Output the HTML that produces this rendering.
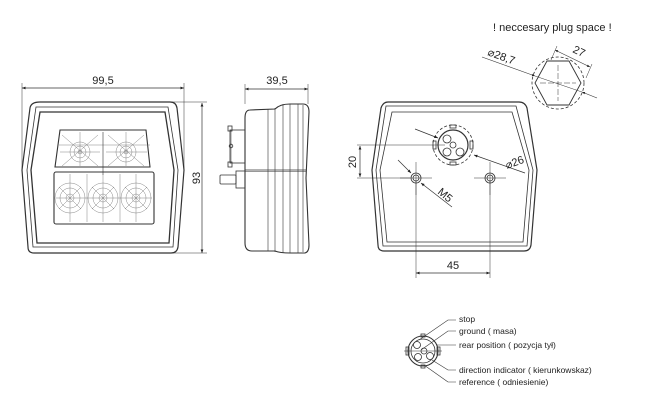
<!DOCTYPE html>
<html><head><meta charset="utf-8"><style>
html,body{margin:0;padding:0;background:#fff;width:650px;height:408px;overflow:hidden}
svg{display:block}
text{font-family:"Liberation Sans",sans-serif;fill:#222}
</style></head><body>
<svg width="650" height="408" viewBox="0 0 650 408" xmlns="http://www.w3.org/2000/svg">
<defs>
<marker id="a" viewBox="0 0 10 10" refX="10" refY="5" markerWidth="7" markerHeight="5" orient="auto-start-reverse"><path d="M0,1 L10,5 L0,9 z" fill="#222"/></marker>
</defs>
<g fill="none" stroke="#333" stroke-width="0.8">
<!-- FRONT VIEW -->
<path d="M40,102 L170,102 Q176,102 177,108 L184,170 L178,247 Q177,253 171,253 L34,253 Q28,253 28,247 L22,170 L30,108 Q31,102 40,102 Z" stroke-width="1.2"/>
<path d="M42,107 L168,107 L178,170 L173,247 L33,247 L27,170 L36,107 Z"/>
<path d="M44,112 L165,112 L174,170 L169,243 L37,243 L31,170 L40,112 Z" stroke-width="1.3"/>
<path d="M60,130 L146,130 L150,167 L55,167 Z" stroke-width="1.1"/>
<rect x="54" y="172" width="100" height="52" rx="2" stroke-width="1.1"/>
<g stroke="#777" stroke-width="0.45">
<line x1="59" y1="145" x2="150" y2="145"/>
<line x1="103" y1="132" x2="103" y2="175" stroke="#333" stroke-width="0.6"/>
<circle cx="80" cy="152" r="10"/><circle cx="80" cy="152" r="6"/><circle cx="80" cy="152" r="2"/>
<circle cx="126" cy="152" r="10"/><circle cx="126" cy="152" r="6"/><circle cx="126" cy="152" r="2"/>
<line x1="62" y1="135" x2="98" y2="166"/><line x1="62" y1="166" x2="98" y2="135"/>
<line x1="108" y1="135" x2="144" y2="166"/><line x1="108" y1="166" x2="144" y2="135"/>
<line x1="80" y1="132" x2="80" y2="166"/><line x1="126" y1="132" x2="126" y2="166"/>
<line x1="60" y1="152" x2="100" y2="152"/><line x1="106" y1="152" x2="147" y2="152"/>
<circle cx="70" cy="198" r="15"/><circle cx="70" cy="198" r="10"/><circle cx="70" cy="198" r="4"/>
<circle cx="103" cy="198" r="15"/><circle cx="103" cy="198" r="10"/><circle cx="103" cy="198" r="4"/>
<circle cx="136" cy="198" r="15"/><circle cx="136" cy="198" r="10"/><circle cx="136" cy="198" r="4"/>
<line x1="87" y1="174" x2="87" y2="222"/><line x1="120" y1="174" x2="120" y2="222"/>
<line x1="70" y1="174" x2="70" y2="222"/><line x1="103" y1="174" x2="103" y2="222"/><line x1="136" y1="174" x2="136" y2="222"/>
<line x1="56" y1="198" x2="152" y2="198"/>
<line x1="59" y1="187" x2="81" y2="209"/><line x1="59" y1="209" x2="81" y2="187"/>
<line x1="92" y1="187" x2="114" y2="209"/><line x1="92" y1="209" x2="114" y2="187"/>
<line x1="125" y1="187" x2="147" y2="209"/><line x1="125" y1="209" x2="147" y2="187"/>
</g>
<!-- dims front -->
<line x1="22" y1="88" x2="184" y2="88" marker-start="url(#a)" marker-end="url(#a)" stroke-width="0.7"/>
<line x1="22" y1="83" x2="22" y2="170" stroke-width="0.5"/>
<line x1="184" y1="83" x2="184" y2="170" stroke-width="0.5"/>
<line x1="202" y1="103" x2="202" y2="253" marker-start="url(#a)" marker-end="url(#a)" stroke-width="0.7"/>
<line x1="172" y1="102" x2="207" y2="102" stroke-width="0.5"/>
<line x1="172" y1="253" x2="207" y2="253" stroke-width="0.5"/>
<!-- SIDE VIEW -->
<path d="M250,110 Q245,110 245,118 L245,243 Q245,251 252,251 L275,251 Q280,253 290,253 L305,253 Q309,252 309,245 L306,178 L309,112 Q309,104 303,104 L290,104 Q280,104 275,109 Z" stroke-width="1.1"/>
<g stroke-width="0.6">
<line x1="268" y1="109" x2="268" y2="251"/>
<line x1="275" y1="108" x2="275" y2="252"/>
<line x1="283" y1="104" x2="283" y2="253"/>
<line x1="290" y1="104" x2="290" y2="253"/>
<line x1="298" y1="104" x2="298" y2="253"/>
<line x1="303" y1="105" x2="303" y2="252"/>
</g>
<line x1="245" y1="170" x2="306" y2="170"/>
<line x1="245" y1="171.5" x2="306" y2="171.5" stroke-width="0.5"/>
<rect x="230" y="130" width="15" height="33"/>
<rect x="228" y="126" width="4" height="5"/><rect x="228" y="162" width="4" height="5"/>
<circle cx="231" cy="146" r="1.8"/>
<line x1="231" y1="131" x2="231" y2="162" stroke-width="0.5"/>
<rect x="236" y="171" width="9" height="17"/>
<rect x="220" y="175" width="16" height="9" rx="1"/>
<line x1="245" y1="84" x2="245" y2="104" stroke-width="0.5"/>
<line x1="308" y1="84" x2="308" y2="104" stroke-width="0.5"/>
<line x1="245" y1="89" x2="308" y2="89" marker-start="url(#a)" marker-end="url(#a)" stroke-width="0.7"/>
<!-- REAR VIEW -->
<path d="M388,102 L519,102 Q525,102 527,108 L537,170 L531,245 Q530,251 524,251 L384,251 Q378,251 378,245 L372,170 L381,108 Q383,102 388,102 Z" stroke-width="1.2"/>
<path d="M391,106 L516,106 L533,170 L527,246 L383,246 L376,170 L386,106 Z"/>
<path d="M395,112 L512,112 L529,170 L523,242 L387,242 L380,170 L392,112 Z"/>
<circle cx="453" cy="145" r="20" stroke-dasharray="3,2"/>
<circle cx="453" cy="145" r="15" stroke-width="1.2"/>
<circle cx="453" cy="145" r="3"/>
<circle cx="447" cy="139" r="4"/><circle cx="447" cy="152" r="4"/><circle cx="460" cy="152" r="4"/>
<rect x="433" y="141" width="3" height="8"/><rect x="470" y="141" width="3" height="8"/>
<rect x="450" y="125" width="6" height="3"/><rect x="450" y="162" width="6" height="3"/>
<circle cx="416" cy="178" r="5"/><circle cx="416" cy="178" r="3"/>
<circle cx="490" cy="178" r="5"/><circle cx="490" cy="178" r="3"/>
<g stroke-width="0.5">
<line x1="400" y1="178" x2="432" y2="178"/><line x1="416" y1="162" x2="416" y2="195"/>
<line x1="474" y1="178" x2="506" y2="178"/><line x1="490" y1="162" x2="490" y2="195"/>
<line x1="357" y1="145" x2="445" y2="145"/>
<line x1="357" y1="178" x2="410" y2="178"/>
<line x1="416" y1="180" x2="416" y2="278"/>
<line x1="490" y1="180" x2="490" y2="278"/>
</g>
<line x1="360" y1="146" x2="360" y2="177" marker-start="url(#a)" marker-end="url(#a)" stroke-width="0.7"/>
<line x1="416" y1="273" x2="490" y2="273" marker-start="url(#a)" marker-end="url(#a)" stroke-width="0.7"/>
<line x1="415" y1="129" x2="438" y2="138" marker-end="url(#a)" stroke-width="0.7"/>
<line x1="525" y1="173" x2="474" y2="155" marker-end="url(#a)" stroke-width="0.7"/>
<line x1="398" y1="160" x2="411" y2="173" marker-end="url(#a)" stroke-width="0.7"/>
<line x1="452" y1="207" x2="421" y2="183" marker-end="url(#a)" stroke-width="0.7"/>
<!-- HEX -->
<circle cx="558" cy="83" r="26" stroke-dasharray="3,2"/>
<path d="M547,61 L569,61 L581,83 L569,105 L547,105 L535,83 Z" stroke-width="0.9"/>
<line x1="558" y1="65" x2="558" y2="101" stroke-dasharray="6,2" stroke-width="0.5"/>
<line x1="540" y1="83" x2="576" y2="83" stroke-dasharray="6,2" stroke-width="0.5"/>
<line x1="482" y1="57" x2="535" y2="76" marker-end="url(#a)" stroke-width="0.6"/>
<line x1="597" y1="98" x2="582" y2="92" marker-end="url(#a)" stroke-width="0.6"/>
<line x1="535" y1="76" x2="582" y2="92" stroke-width="0.5"/>
<line x1="551" y1="60" x2="557" y2="46" stroke-width="0.5"/>
<line x1="586" y1="78" x2="592" y2="64" stroke-width="0.5"/>
<line x1="555" y1="50" x2="590" y2="67" marker-start="url(#a)" marker-end="url(#a)" stroke-width="0.6"/>
<!-- LEGEND CONNECTOR -->
<circle cx="423" cy="351" r="15" stroke-width="1.1"/>
<circle cx="423" cy="351" r="12"/>
<circle cx="424" cy="351" r="3"/>
<circle cx="417" cy="345" r="3.5"/><circle cx="418" cy="357" r="3.5"/><circle cx="430" cy="356" r="3.5"/>
<rect x="406" y="347" width="3" height="8"/><rect x="437" y="347" width="3" height="8"/>
<rect x="421" y="334" width="4" height="3"/><rect x="421" y="365" width="4" height="3"/>
<line x1="404" y1="351" x2="442" y2="351" stroke-width="0.5"/>
<g stroke-width="0.6">
<polyline points="419,340 448,320 456,320"/>
<polyline points="421,350 448,331 456,331"/>
<polyline points="436,345 448,345 456,345"/>
<polyline points="432,360 448,370 456,370"/>
<polyline points="424,365 448,382 456,382"/>
</g>
</g>
<!-- TEXT -->
<text x="103" y="84" font-size="11" text-anchor="middle">99,5</text>
<text x="277" y="84" font-size="11" text-anchor="middle">39,5</text>
<text x="200" y="178" font-size="11" text-anchor="middle" transform="rotate(-90 200 178)">93</text>
<text x="356" y="162" font-size="11" text-anchor="middle" transform="rotate(-90 356 162)">20</text>
<text x="453" y="269" font-size="11" text-anchor="middle">45</text>
<text x="507" y="169" font-size="11" transform="rotate(-20 507 169)">⌀26</text>
<text x="437" y="193" font-size="11" transform="rotate(40 437 193)">M5</text>
<text x="487" y="55" font-size="11" transform="rotate(20 487 55)">⌀28,7</text>
<text x="572" y="52" font-size="11" transform="rotate(25 572 52)">27</text>
<text x="493" y="31" font-size="11">! neccesary plug space !</text>
<g font-size="8.5">
<text x="459" y="322">stop</text>
<text x="459" y="334">ground  ( masa)</text>
<text x="459" y="348">rear position  ( pozycja tył)</text>
<text x="459" y="373">direction indicator  ( kierunkowskaz)</text>
<text x="459" y="385">reference  ( odniesienie)</text>
</g>
</svg>
</body></html>
